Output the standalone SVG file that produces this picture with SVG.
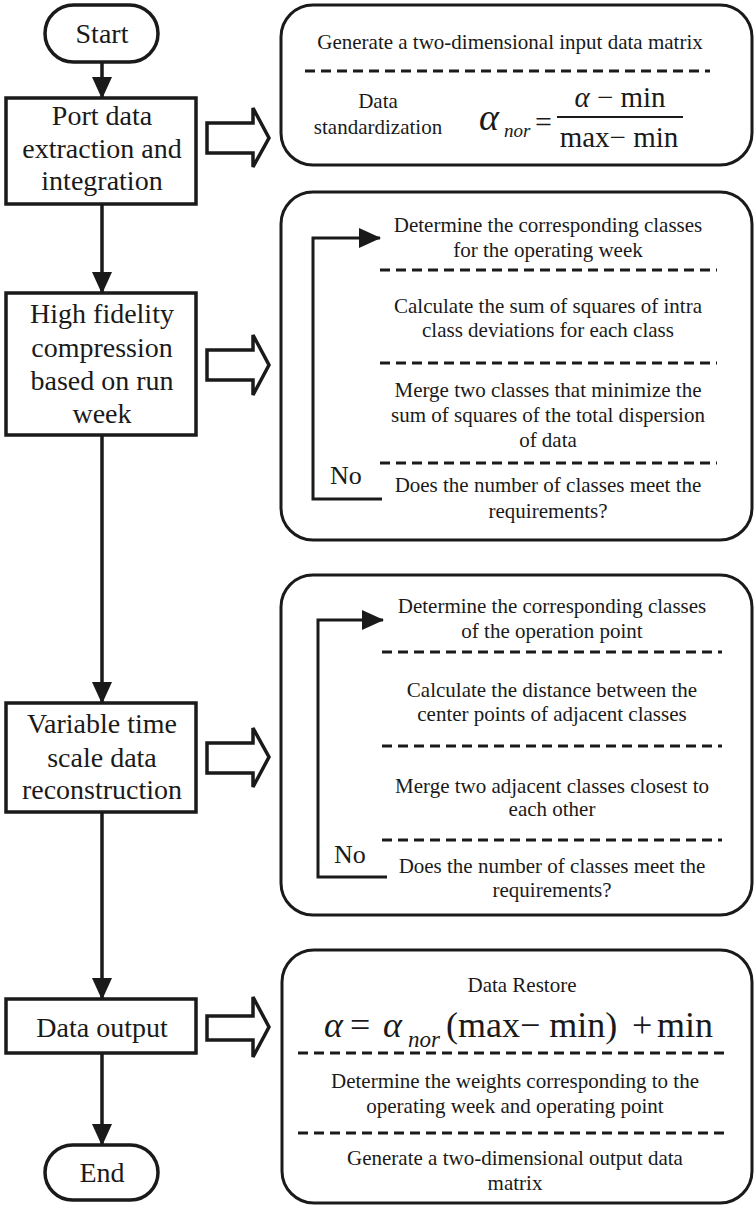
<svg xmlns="http://www.w3.org/2000/svg" width="754" height="1206" viewBox="0 0 754 1206" font-family="Liberation Serif, serif">
<style>
  .box{fill:#fff;stroke:#1a1a1a;stroke-width:3.5}
  .rbox{fill:#fff;stroke:#1a1a1a;stroke-width:3}
  .hol{fill:#fff;stroke:#1a1a1a;stroke-width:3.5;stroke-linejoin:miter}
  .conn{fill:none;stroke:#1a1a1a;stroke-width:3.5}
  .loop{fill:none;stroke:#1a1a1a;stroke-width:3}
  .dash{stroke:#1a1a1a;stroke-width:3;stroke-dasharray:10 6}
  text{font-family:'Liberation Serif',serif;fill:#1a1a1a}
  .lt{font-size:28px;text-anchor:middle}
  .rt{font-size:21px;text-anchor:middle}
  .no{font-size:26px}
  .it{font-style:italic}
</style>
<defs>
  <marker id="arr" viewBox="0 0 22 20" refX="21" refY="10" markerWidth="22" markerHeight="20" markerUnits="userSpaceOnUse" orient="auto">
    <path d="M0,0 L22,10 L0,20 z" fill="#1a1a1a"/>
  </marker>
</defs>
<rect width="754" height="1206" fill="#fff"/>

<g id="connectors">
  <line class="conn" x1="102" y1="62" x2="102" y2="98" marker-end="url(#arr)"/>
  <line class="conn" x1="102" y1="204" x2="102" y2="293" marker-end="url(#arr)"/>
  <line class="conn" x1="102" y1="435" x2="102" y2="703" marker-end="url(#arr)"/>
  <line class="conn" x1="102" y1="812" x2="102" y2="999" marker-end="url(#arr)"/>
  <line class="conn" x1="102" y1="1053" x2="102" y2="1145" marker-end="url(#arr)"/>
  <polygon class="hol" points="207,123 253,123 253,108 269,138 253,167 253,153 207,153"/>
  <polygon class="hol" points="207,350 253,350 253,335 269,365 253,395 253,380 207,380"/>
  <polygon class="hol" points="207,743 253,743 253,728 269,757 253,787 253,773 207,773"/>
  <polygon class="hol" points="207,1016 253,1016 253,997 269,1027 253,1057 253,1040 207,1040"/>
</g>

<g id="start">
  <rect class="box" x="45" y="5" width="113" height="57" rx="28.5"/>
  <text class="lt" x="102" y="43">Start</text>
</g>
<g id="port-data">
  <rect class="box" x="6" y="98" width="190" height="106"/>
  <text class="lt" x="102" y="125">Port data</text>
  <text class="lt" x="102" y="158">extraction and</text>
  <text class="lt" x="102" y="190">integration</text>
</g>
<g id="high-fidelity">
  <rect class="box" x="6" y="293" width="190" height="142"/>
  <text class="lt" x="102" y="323">High fidelity</text>
  <text class="lt" x="102" y="357">compression</text>
  <text class="lt" x="102" y="390">based on run</text>
  <text class="lt" x="102" y="423">week</text>
</g>
<g id="variable-time">
  <rect class="box" x="6" y="703" width="190" height="109"/>
  <text class="lt" x="102" y="733">Variable time</text>
  <text class="lt" x="102" y="767">scale data</text>
  <text class="lt" x="102" y="799">reconstruction</text>
</g>
<g id="data-output">
  <rect class="box" x="6" y="999" width="190" height="54"/>
  <text class="lt" x="102" y="1037">Data output</text>
</g>
<g id="end">
  <rect class="box" x="45" y="1145" width="113" height="55" rx="27.5"/>
  <text class="lt" x="102" y="1182">End</text>
</g>

<g id="panel-1">
  <rect class="rbox" x="281" y="5" width="471" height="160" rx="32"/>
  <text class="rt" x="510" y="49">Generate a two-dimensional input data matrix</text>
  <line class="dash" x1="305" y1="71" x2="710" y2="71"/>
  <text class="rt" x="378" y="108">Data</text>
  <text class="rt" x="378" y="134">standardization</text>
  <text class="it" x="479" y="130" font-size="38">α</text>
  <text class="it" x="504" y="137" font-size="19">nor</text>
  <text x="535" y="132" font-size="30">=</text>
  <text x="620" y="107" font-size="29" text-anchor="middle"><tspan class="it">α</tspan> − min</text>
  <line x1="557" y1="117" x2="683" y2="117" stroke="#1a1a1a" stroke-width="2"/>
  <text x="619" y="147" font-size="29" text-anchor="middle">max− min</text>
</g>

<g id="panel-2">
  <rect class="rbox" x="281" y="192" width="471" height="348" rx="32"/>
  <polyline class="loop" points="382,499 313,499 313,238 380,238" marker-end="url(#arr)"/>
  <text class="rt" x="548" y="232">Determine the corresponding classes</text>
  <text class="rt" x="548" y="257">for the operating week</text>
  <line class="dash" x1="380" y1="270" x2="717" y2="270"/>
  <text class="rt" x="548" y="313">Calculate the sum of squares of intra</text>
  <text class="rt" x="548" y="337">class deviations for each class</text>
  <line class="dash" x1="380" y1="363" x2="717" y2="363"/>
  <text class="rt" x="548" y="397">Merge two classes that minimize the</text>
  <text class="rt" x="548" y="422">sum of squares of the total dispersion</text>
  <text class="rt" x="548" y="447">of data</text>
  <line class="dash" x1="380" y1="463" x2="717" y2="463"/>
  <text class="no" x="330" y="484">No</text>
  <text class="rt" x="548" y="492">Does the number of classes meet the</text>
  <text class="rt" x="548" y="518">requirements?</text>
</g>

<g id="panel-3">
  <rect class="rbox" x="281" y="575" width="471" height="340" rx="32"/>
  <polyline class="loop" points="387,877 318,877 318,620 383,620" marker-end="url(#arr)"/>
  <text class="rt" x="552" y="613">Determine the corresponding classes</text>
  <text class="rt" x="552" y="638">of the operation point</text>
  <line class="dash" x1="382" y1="652" x2="722" y2="652"/>
  <text class="rt" x="552" y="697">Calculate the distance between the</text>
  <text class="rt" x="552" y="721">center points of adjacent classes</text>
  <line class="dash" x1="382" y1="746" x2="722" y2="746"/>
  <text class="rt" x="552" y="793">Merge two adjacent classes closest to</text>
  <text class="rt" x="552" y="816">each other</text>
  <line class="dash" x1="382" y1="840" x2="722" y2="840"/>
  <text class="no" x="334" y="863">No</text>
  <text class="rt" x="552" y="873">Does the number of classes meet the</text>
  <text class="rt" x="552" y="897">requirements?</text>
</g>

<g id="panel-4">
  <rect class="rbox" x="282" y="950" width="470" height="253" rx="32"/>
  <text class="rt" x="522" y="992">Data Restore</text>
  <text y="1037" font-size="36"><tspan class="it" x="324">α</tspan><tspan x="350">=</tspan><tspan class="it" x="383">α</tspan><tspan class="it" x="408" y="1047" font-size="23">nor</tspan><tspan x="446" y="1037">(max− min)</tspan><tspan x="632">+</tspan><tspan x="657">min</tspan></text>
  <line class="dash" x1="298" y1="1053" x2="730" y2="1053"/>
  <text class="rt" x="515" y="1088">Determine the weights corresponding to the</text>
  <text class="rt" x="515" y="1113">operating week and operating point</text>
  <line class="dash" x1="298" y1="1133" x2="730" y2="1133"/>
  <text class="rt" x="515" y="1165">Generate a two-dimensional output data</text>
  <text class="rt" x="515" y="1190">matrix</text>
</g>
</svg>
